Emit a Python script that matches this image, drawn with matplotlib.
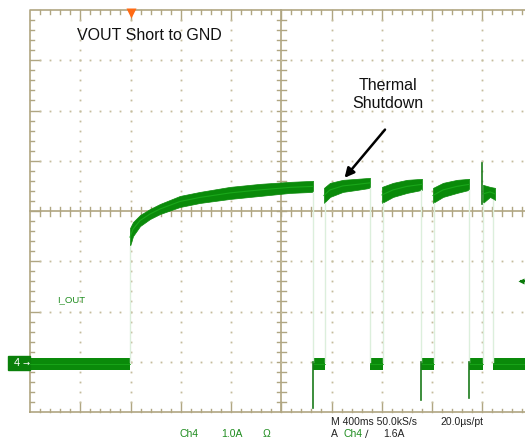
import numpy as np
import matplotlib
matplotlib.use("Agg")
import matplotlib.pyplot as plt
from matplotlib.patches import Rectangle
import matplotlib.transforms as mtransforms

plt.rcParams['font.family'] = ['Liberation Sans', 'DejaVu Sans']

# Ch4 current trace (time in ms, current in A)
# each burst: time points, upper and lower edge of the noisy trace band
burst1_t = [796, 820, 876, 955, 1035, 1194, 1353, 1592, 1831, 2070, 2253]
burst1_hi = [2.66, 2.78, 2.92, 3.04, 3.14, 3.30, 3.38, 3.48, 3.54, 3.58, 3.60]
burst1_lo = [2.30, 2.50, 2.70, 2.84, 2.94, 3.08, 3.16, 3.24, 3.30, 3.36, 3.38]

burst2_t = [2340, 2388, 2491, 2603, 2706]
burst2_hi = [3.46, 3.56, 3.62, 3.64, 3.66]
burst2_lo = [3.16, 3.28, 3.38, 3.42, 3.46]

burst3_t = [2802, 2890, 3001, 3120]
burst3_hi = [3.48, 3.56, 3.62, 3.64]
burst3_lo = [3.16, 3.28, 3.36, 3.42]

burst4_t = [3208, 3288, 3399, 3495]
burst4_hi = [3.46, 3.56, 3.62, 3.64]
burst4_lo = [3.16, 3.28, 3.36, 3.42]

burst5_t = [3606, 3662, 3702]
burst5_hi = [3.52, 3.48, 3.46]
burst5_lo = [3.16, 3.28, 3.22]

bursts = [
    (burst1_t, burst1_hi, burst1_lo),
    (burst2_t, burst2_hi, burst2_lo),
    (burst3_t, burst3_hi, burst3_lo),
    (burst4_t, burst4_hi, burst4_lo),
    (burst5_t, burst5_hi, burst5_lo),
]

# zero-current stretches (start, end) and the band around 0 A
off_start = [0, 2253, 2706, 3112, 3495, 3686]
off_end = [796, 2348, 2810, 3216, 3606, 3960]
off_hi = 0.07
off_lo = -0.16

# negative spikes when the output turns back on
dip_t = [2253, 3112, 3495]
dip_i = [-0.92, -0.76, -0.72]

# spike at the start of the last burst
spike_t = 3598
spike_lo = 3.14
spike_hi = 3.96

# edges where the trace jumps (faint vertical lines)
edge_t = [796, 2253, 2348, 2706, 2810, 3112, 3216, 3495, 3606, 3686]
edge_top = [2.30, 3.38, 3.16, 3.46, 3.16, 3.42, 3.16, 3.42, 3.16, 3.22]

trig_pos = 800     # ms
trig_level = 1.6   # A

ms_per_div = 400
t_min, t_max = 0, 10 * ms_per_div
i_min, i_max = -1.0, 7.0

grat = '#b0a682'
dotc = '#c4bc9c'
green = '#0a8a0a'
textgreen = '#1e8c1e'

W, H = 525, 441
fig = plt.figure(figsize=(W / 100, H / 100), dpi=100)
fig.patch.set_facecolor('white')
rect = [30 / W, (H - 412) / H, 502.5 / W, 402 / H]

# graticule, in divisions
gx = fig.add_axes(rect)
gx.set_xlim(0, 10)
gx.set_ylim(0, 8)
gx.axis('off')

gx.plot([0, 10, 10, 0, 0], [0, 0, 8, 8, 0], color=grat, lw=1.2, clip_on=False)
gx.plot([5, 5], [0, 8], color=grat, lw=1.2, clip_on=False)
gx.plot([0, 10], [4, 4], color=grat, lw=1.2, clip_on=False)

px = 1 / 50.25
steps_x = np.round(np.arange(0.2, 10, 0.2), 3)
steps_y = np.round(np.arange(0.2, 8, 0.2), 3)
for x in steps_x:
    major = abs(x - round(x)) < 1e-6
    tl = 10 * px if major else 3.5 * px
    gx.plot([x, x], [8, 8 - tl], color=grat, lw=1, clip_on=False)
    gx.plot([x, x], [0, tl], color=grat, lw=1, clip_on=False)
    gx.plot([x, x], [4 - 4.5 * px, 4 + 4.5 * px], color=grat, lw=1, clip_on=False)
for y in steps_y:
    major = abs(y - round(y)) < 1e-6
    tl = 10 * px if major else 3.5 * px
    gx.plot([0, tl], [y, y], color=grat, lw=1, clip_on=False)
    gx.plot([5 - 4.5 * px, 5 + 4.5 * px], [y, y], color=grat, lw=1, clip_on=False)

for x in range(1, 10):
    if x == 5:
        continue
    gx.plot(np.full(len(steps_y), x), steps_y, 's', ms=1.3, color=dotc,
            mec='none', clip_on=False)
for y in range(1, 8):
    if y == 4:
        continue
    gx.plot(steps_x, np.full(len(steps_x), y), 's', ms=1.3, color=dotc,
            mec='none', clip_on=False)

# data axes, in ms and A
ax = fig.add_axes(rect)
ax.set_xlim(t_min, t_max)
ax.set_ylim(i_min, i_max)
ax.patch.set_alpha(0)
ax.axis('off')

for t, top in zip(edge_t, edge_top):
    ax.plot([t, t], [0, top], color='#dcefdc', lw=1)

for s, e in zip(off_start, off_end):
    ax.fill_between([s, e], [off_lo, off_lo], [off_hi, off_hi], color=green, lw=0)
    ax.plot([s, e], [-0.04, -0.04], color='#1aa81a', lw=0.6)

for bt, bh, bl in bursts:
    ax.fill_between(bt, bl, bh, color=green, lw=0.5, edgecolor=green)
    ax.plot(bt, [(a + b) / 2 for a, b in zip(bh, bl)], color='#1aa81a', lw=0.8)

for t, d in zip(dip_t, dip_i):
    ax.plot([t, t], [d, 0], color='#1a7a1a', lw=1.2)
ax.plot([spike_t, spike_t], [spike_lo, spike_hi], color='#1a7a1a', lw=1.2)

# trigger position (top) and trigger level (right)
ax.plot([trig_pos], [i_max - 0.05], 'v', ms=7, color='#ff6a13', mec='none',
        clip_on=False)
ax.plot([3905], [trig_level], '<', ms=5, color='#0a7a0a', mec='none', clip_on=False)
ax.plot([3905, 3960], [trig_level, trig_level], color='#0a7a0a', lw=1.5, clip_on=False)

# channel 4 ground marker
bt_ = mtransforms.blended_transform_factory(ax.transAxes, ax.transData)
ax.add_patch(Rectangle((-22 / 502.5, -0.16), 22 / 502.5, 0.28, transform=bt_,
                       color='#0a800a', clip_on=False))
ax.text(-13 / 502.5, -0.02, '4', transform=bt_, color='white', fontsize=8,
        ha='center', va='center')
ax.text(-4 / 502.5, -0.02, '→', transform=bt_, color='white', fontsize=6,
        ha='center', va='center', family=['DejaVu Sans'])

# annotations
ax.text(47 / 502.5, 1 - 25 / 402, 'VOUT Short to GND', transform=ax.transAxes,
        fontsize=11.5, ha='left', va='center', color='#111111')
ax.text(358 / 502.5, 1 - 84.5 / 402, 'Thermal\nShutdown', transform=ax.transAxes,
        fontsize=11.5, ha='center', va='center', linespacing=1.2, color='#111111')
ax.annotate('', xy=(2504, 3.66), xytext=(2826, 4.62),
            arrowprops=dict(arrowstyle='-|>', color='black', lw=1.8,
                            mutation_scale=14, shrinkA=0, shrinkB=0))
ax.text(27 / 502.5, 1 - 289.5 / 402, 'I_OUT', transform=ax.transAxes,
        fontsize=6.8, color=textgreen, ha='left', va='center')

# readout below the screen
fig.text(180 / W, 1 - 434 / H, 'Ch4', fontsize=7.5, color=textgreen, va='center')
fig.text(221 / W, 1 - 434 / H, '1.0A', fontsize=7.5, color=textgreen, va='center')
fig.text(263 / W, 1 - 434 / H, 'Ω', fontsize=7.5, color=textgreen, va='center')
fig.text(331 / W, 1 - 422 / H, 'M 400ms 50.0kS/s', fontsize=7.5, color='#222222',
         va='center')
fig.text(440 / W, 1 - 422 / H, '20.0µs/pt', fontsize=7.5, color='#222222', va='center')
fig.text(331 / W, 1 - 434 / H, 'A', fontsize=7.5, color='#222222', va='center')
fig.text(343 / W, 1 - 434 / H, 'Ch4', fontsize=7.5, color=textgreen, va='center')
fig.text(365 / W, 1 - 434 / H, '∕', fontsize=7.5, color='#222222', va='center',
         family=['DejaVu Sans'])
fig.text(383 / W, 1 - 434 / H, '1.6A', fontsize=7.5, color='#222222', va='center')

fig.savefig('out.png', dpi=100)
